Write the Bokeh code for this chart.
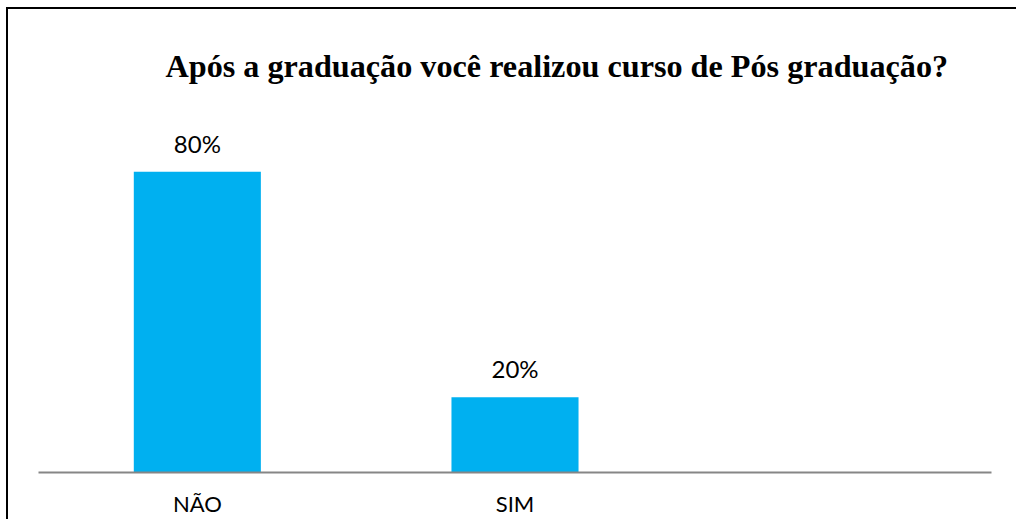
from bokeh.plotting import figure
from bokeh.models import FactorRange, Range1d, ColumnDataSource
from bokeh.core.properties import value
from bokeh.embed import file_html
from bokeh.resources import INLINE

title_text = "Após a graduação você realizou curso de Pós graduação?"
categories = ["NÃO", "SIM", " "]
bar_categories = ["NÃO", "SIM"]
percent_values = [80, 20]
percent_labels = ["80%", "20%"]

src = ColumnDataSource(dict(cat=bar_categories, val=percent_values, lab=percent_labels))

p = figure(x_range=FactorRange(factors=categories), y_range=Range1d(0, 100),
           width=1016, height=519, output_backend="svg", toolbar_location=None,
           min_border_left=38, min_border_right=25, min_border_bottom=47, min_border_top=96)

p.vbar(x="cat", top="val", width=0.4, source=src, color="#00B0F0", line_color=None)
p.text(x="cat", y="val", text="lab", source=src, text_align="center",
       text_baseline="bottom", y_offset=-14, text_font=value("Lato"),
       text_font_size="24px", text_color="#000000")

p.title.text = title_text
p.title.align = "left"
p.title.offset = 127
p.title.text_font = "Liberation Serif"
p.title.text_font_style = "bold"
p.title.text_font_size = "32.2px"
p.title.text_color = "#000000"
p.title.standoff = 26

p.yaxis.visible = False
p.xgrid.visible = False
p.ygrid.visible = False
p.outline_line_color = None
p.background_fill_color = "#ffffff"
p.border_fill_color = None

ax = p.xaxis[0]
ax.axis_line_color = "#868686"
ax.axis_line_width = 2
ax.major_tick_line_color = None
ax.minor_tick_line_color = None
ax.major_label_text_font = "Lato"
ax.major_label_text_font_size = "22px"
ax.major_label_text_color = "#000000"
ax.major_label_standoff = 11

p.stylesheets = [
    ":host { background-color: #ffffff; "
    "background-image: linear-gradient(#000000, #000000), linear-gradient(#000000, #000000); "
    "background-repeat: no-repeat, no-repeat; "
    "background-size: 1200px 2px, 2px 1200px; "
    "background-position: 7px 7px, 6px 7px; }"
]

open("out.html", "w").write(file_html(p, INLINE))
